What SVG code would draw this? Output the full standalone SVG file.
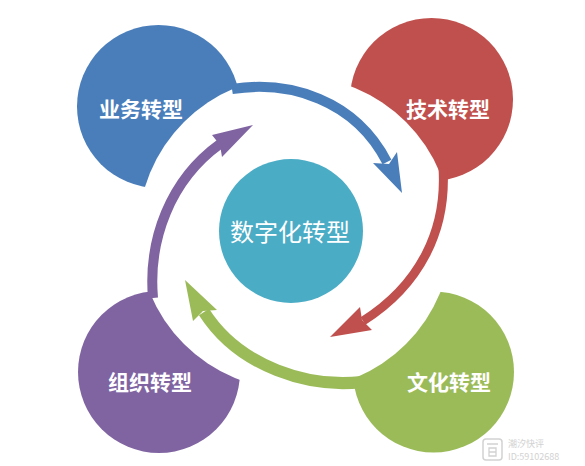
<svg xmlns="http://www.w3.org/2000/svg" width="585" height="466" viewBox="0 0 585 466">
  <style>
    .lbl { font-family: "Noto Sans CJK SC", "Noto Sans", sans-serif; font-weight: bold; font-size: 21px; fill: #ffffff; text-anchor: middle; }
    .ctr { font-family: "Noto Sans CJK SC", "Noto Sans", sans-serif; font-size: 24px; fill: #ffffff; text-anchor: middle; }
    .band { fill: none; stroke-linecap: butt; }
    .wm { font-family: "Noto Sans CJK SC", "Noto Sans", sans-serif; fill: #d2d2d2; font-size: 9px; }
  </style>
  <rect width="585" height="466" fill="#ffffff"/>
  <g id="circles-back">
    <circle cx="158.5" cy="106.5" r="81.5" fill="#4a7ebb"/>
    <circle cx="431.5" cy="99.5" r="81.5" fill="#c0504d"/>
    <circle cx="159" cy="372" r="81" fill="#8064a2"/>
    <circle cx="433.5" cy="372" r="80.5" fill="#9bbb59"/>
  </g>
  <circle cx="295" cy="233" r="157" fill="#ffffff"/>
  <g id="connectors">
    <path class="band" d="M232,89 C290,80 355,100 387,162" stroke="#4a7ebb" stroke-width="10"/>
    <polygon points="373,163 402,193 397,152 389,164" fill="#4a7ebb"/>
    <path class="band" d="M443,168 C447,230 420,285 363,321" stroke="#c0504d" stroke-width="9"/>
    <polygon points="360,307 330,337 372,330 362,320" fill="#c0504d"/>
    <path class="band" d="M362,382 C310,388 240,368 204,312" stroke="#9bbb59" stroke-width="12"/>
    <polygon points="217,310 185,280 193,321 203,311" fill="#9bbb59"/>
    <path class="band" d="M153,298 C148,240 170,180 220,144" stroke="#8064a2" stroke-width="10"/>
    <polygon points="212,135 253,125 222,157 220,145" fill="#8064a2"/>
  </g>
  <g id="node-business">
    <text class="lbl" x="141" y="117">业务转型</text>
  </g>
  <g id="node-tech">
    <text class="lbl" x="448" y="117">技术转型</text>
  </g>
  <g id="node-org">
    <text class="lbl" x="150" y="390">组织转型</text>
  </g>
  <g id="node-culture">
    <text class="lbl" x="449" y="390">文化转型</text>
  </g>
  <g id="node-center">
    <circle cx="291" cy="231" r="72" fill="#4bacc6"/>
    <text class="ctr" x="290" y="241">数字化转型</text>
  </g>
  <g id="watermark">
    <rect x="483" y="439" width="19" height="21" rx="3" fill="#ffffff" stroke="#d2d2d2" stroke-width="1.5"/>
    <path d="M487,444 H498 M489,448 H496 V456 H489 Z M489,452 H496" fill="none" stroke="#d2d2d2" stroke-width="1.3"/>
    <text class="wm" x="508" y="447">潮汐快评</text>
    <text class="wm" x="508" y="460">ID:59102688</text>
  </g>
</svg>
